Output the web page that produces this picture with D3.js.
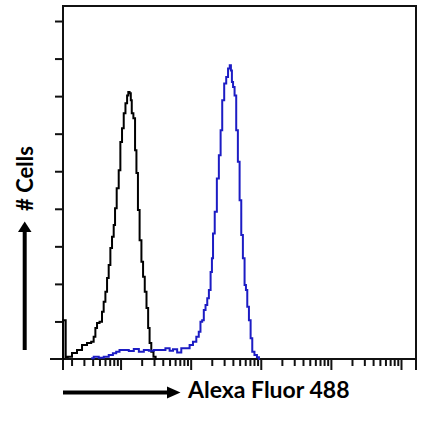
<!DOCTYPE html>
<html>
<head>
<meta charset="utf-8">
<script src="https://cdn.jsdelivr.net/npm/d3@7"></script>
<style>
  body { margin: 0; background: #fff; }
  text { font-family: Lato, "Open Sans", sans-serif; font-weight: bold; fill: #000; }
</style>
</head>
<body>
<div id="chart-area"></div>
<script>
// Flow histogram: isotype control (black) vs antibody (blue)

var width = 422;
var height = 421;

// fluorescence intensity (log axis) and cell counts
var controlIntensity = [1.51, 1.53, 1.64, 1.66, 1.87, 2.20, 2.60, 3.06, 3.61, 4.02, 4.25, 4.50, 4.74, 5.30,
    5.58, 5.91, 6.25, 6.59, 6.96, 7.36, 7.76, 8.21, 8.48, 9.15, 9.68, 10.2, 10.8, 11.4, 12.1, 12.7,
    13.1, 13.8, 14.2, 14.7, 15.8, 16.4, 17.3, 18.1, 19.3, 20.4, 21.5, 22.8, 24.1, 25.4, 26.5, 28.4,
    30.6, 32.7];
var controlCounts = [0, 20.7, 20.7, 1.1, 1.2, 3.2, 4.8, 7.4, 8.5, 9.2, 11.9, 16.5, 19.2, 19.8,
    25.2, 30.5, 35.8, 43.1, 50.0, 59.1, 65.1, 71.3, 80.3, 91.0, 100.5, 115.6, 122.9, 130.9, 136.2, 140.4,
    142.2, 141.5, 137.8, 130.9, 128.2, 111.2, 99.0, 79.3, 63.3, 51.8, 43.8, 35.8, 27.1, 16.5, 8.5, 3.9,
    1.2, 0];

var stainedIntensity = [3.81, 4.50, 5.30, 6.25, 7.36, 8.21, 9.15, 10.2, 12.1, 14.2, 16.8, 19.8, 23.3,
    27.5, 32.4, 40.2, 47.4, 53.0, 59.1, 69.6, 77.6, 91.5, 102, 114, 127, 134, 142, 150, 158, 168, 177,
    187, 198, 204, 213, 228, 245, 260, 275, 289, 313, 330, 353, 369, 381, 394, 411, 435, 458, 485, 513,
    541, 571, 604, 625, 659, 697, 736, 777, 849, 915, 968];
var stainedCounts = [0.4, 1.2, 0.7, 1.2, 2.1, 3.0, 3.9, 4.8, 4.8, 4.3, 5.3, 3.9, 4.8,
    4.4, 4.8, 4.8, 5.7, 4.4, 5.2, 3.4, 5.7, 5.7, 7.4, 9.2, 11.9, 14.5, 19.8, 20.7, 26.1, 28.7, 32.3,
    36.7, 46.4, 53.6, 66.9, 78.4, 96.1, 108.5, 121.8, 137.8, 146.7, 150.2, 154.7, 156.4, 153.7, 147.5, 144.9, 140.4, 121.8, 105.0, 84.6,
    66.0, 53.6, 39.4, 36.7, 27.8, 20.7, 11.0, 3.9, 2.1, 0.9, 0];

var decades = [10, 100, 1000, 10000, 100000];
var minorSteps = [2, 3, 4, 5, 6, 7, 8, 9];
var countTicks = [20, 40, 60, 80, 100, 120, 140, 160, 180];

var xLabel = "Alexa Fluor 488";
var yLabel = "# Cells";

// note: "top" is taken by window.top, so use other names
var plotLeft = 63, plotRight = 416, plotTop = 6, plotBottom = 359;

var svg = d3.select("#chart-area")
    .append("svg")
    .attr("width", width)
    .attr("height", height);

var x = d3.scaleLog()
    .domain([1.51, 163700])
    .range([plotLeft, plotRight]);

var y = d3.scaleLinear()
    .domain([0, 188])
    .range([plotBottom, plotTop]);

var minorTicks = [];
[1, 10, 100, 1000, 10000, 100000].forEach(function(d) {
    minorSteps.forEach(function(m) {
        var v = d * m;
        if (v > x.domain()[0] && v < x.domain()[1]) minorTicks.push(v);
    });
});

// axes
function styleAxis(g) {
    g.select(".domain").remove();
    g.selectAll(".tick line").attr("stroke", "#111").attr("stroke-width", 2);
}

svg.append("g")
    .attr("transform", "translate(0," + plotBottom + ")")
    .call(d3.axisBottom(x).tickValues(minorTicks).tickSize(7).tickFormat(""))
    .call(styleAxis);

svg.append("g")
    .attr("transform", "translate(0," + plotBottom + ")")
    .call(d3.axisBottom(x).tickValues(decades).tickSize(11).tickFormat(""))
    .call(styleAxis);

svg.append("g")
    .attr("transform", "translate(" + plotLeft + ",0)")
    .call(d3.axisLeft(y).tickValues(countTicks).tickSize(8).tickFormat(""))
    .call(styleAxis);

// frame
var frame = svg.append("g")
    .attr("stroke", "#111")
    .attr("stroke-width", 2)
    .attr("fill", "none");
frame.append("line").attr("x1", 50).attr("x2", plotRight).attr("y1", plotBottom).attr("y2", plotBottom);
frame.append("line").attr("x1", plotLeft).attr("x2", plotLeft).attr("y1", plotTop).attr("y2", plotBottom + 11);
frame.append("line").attr("x1", plotRight).attr("x2", plotRight).attr("y1", plotTop).attr("y2", plotBottom + 11);
frame.append("line").attr("x1", plotLeft - 1).attr("x2", plotRight + 1).attr("y1", plotTop).attr("y2", plotTop);

// histograms
var line = d3.line()
    .x(function(d) { return x(d[0]); })
    .y(function(d) { return y(d[1]); })
    .curve(d3.curveStep);

svg.append("path")
    .datum(d3.zip(controlIntensity, controlCounts))
    .attr("d", line)
    .attr("fill", "none")
    .attr("stroke", "#000")
    .attr("stroke-width", 2);

svg.append("path")
    .datum(d3.zip(stainedIntensity, stainedCounts))
    .attr("d", line)
    .attr("fill", "none")
    .attr("stroke", "#1c1cc4")
    .attr("stroke-width", 2);

// axis titles with arrows
svg.append("line")
    .attr("x1", 63).attr("x2", 169)
    .attr("y1", 392.5).attr("y2", 392.5)
    .attr("stroke", "#000")
    .attr("stroke-width", 4);
svg.append("path")
    .attr("d", "M167,386.5L180.5,392.5L167,398.5Z")
    .attr("fill", "#000");

svg.append("text")
    .attr("x", 188)
    .attr("y", 397.5)
    .attr("font-size", 23)
    .text(xLabel);

svg.append("line")
    .attr("x1", 24.7).attr("x2", 24.7)
    .attr("y1", 350).attr("y2", 230)
    .attr("stroke", "#000")
    .attr("stroke-width", 4);
svg.append("path")
    .attr("d", "M18,232L24.7,221.5L31.5,232Z")
    .attr("fill", "#000");

svg.append("text")
    .attr("transform", "translate(33,178.5) rotate(-90)")
    .attr("text-anchor", "middle")
    .attr("font-size", 22)
    .text(yLabel);
</script>
</body>
</html>
